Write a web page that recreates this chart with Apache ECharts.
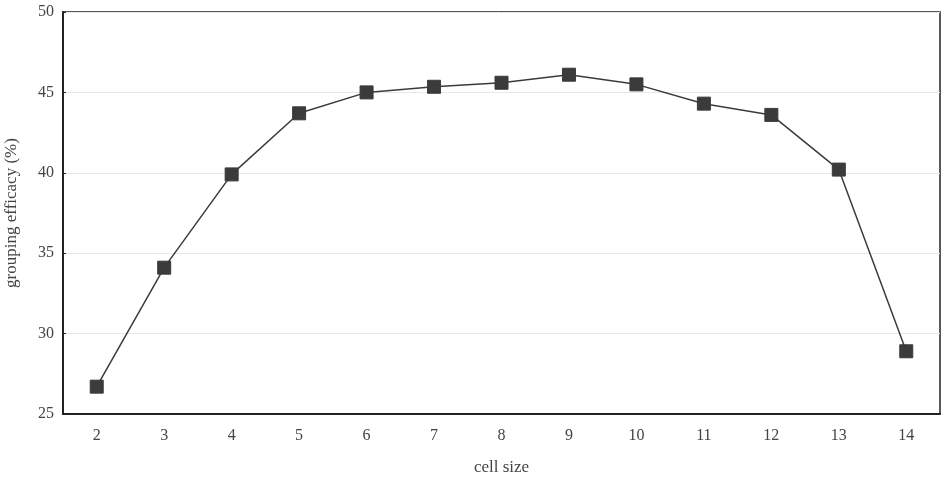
<!DOCTYPE html>
<html lang="en">
<head>
    <meta charset="UTF-8">
    <title>grouping efficacy vs cell size</title>
    <script src="https://cdn.jsdelivr.net/npm/echarts@6.0.0/dist/echarts.min.js"></script>
    <style>
        html, body { margin: 0; padding: 0; background: #fff; }
        #chart { width: 947px; height: 477px; }
    </style>
</head>
<body>
    <div id="chart"></div>
    <script>
    // 数据
    const cellSizes = ['2', '3', '4', '5', '6', '7', '8', '9', '10', '11', '12', '13', '14'];
    const efficacy = [26.7, 34.1, 39.9, 43.7, 45.0, 45.35, 45.6, 46.1, 45.5, 44.3, 43.6, 40.2, 28.9];
    const yTicks = [25, 30, 35, 40, 45, 50];

    const font = '"Liberation Serif", "DejaVu Serif", serif';
    const chart = echarts.init(document.getElementById('chart'));

    chart.setOption({
        animation: false,
        grid: {
            left: 63, right: 7, top: 12, bottom: 63,
            outerBoundsMode: 'none',
            containLabel: false,
            show: true, borderColor: '#222', borderWidth: 1.5,
            backgroundColor: '#fff'
        },
        xAxis: {
            type: 'category',
            data: cellSizes,
            boundaryGap: true,
            name: 'cell size',
            nameLocation: 'middle',
            nameGap: 45,
            nameTextStyle: { fontFamily: font, fontSize: 17, color: '#444' },
            axisLine: { lineStyle: { color: '#222', width: 2 } },
            axisTick: { inside: true, length: 4, lineStyle: { color: '#222' } },
            axisLabel: { fontFamily: font, fontSize: 16, color: '#444', margin: 14 },
            splitLine: { show: false }
        },
        yAxis: {
            type: 'value',
            min: yTicks[0],
            max: yTicks[yTicks.length - 1],
            interval: 5,
            name: 'grouping efficacy (%)',
            nameLocation: 'middle',
            nameGap: 43,
            nameTextStyle: { fontFamily: font, fontSize: 17, color: '#444' },
            axisLine: { show: true, lineStyle: { color: '#222', width: 2 } },
            axisTick: { show: true, inside: true, length: 3, lineStyle: { color: '#222' } },
            axisLabel: { fontFamily: font, fontSize: 16, color: '#444', margin: 9 },
            splitLine: { show: true, lineStyle: { color: '#e8e8e8', width: 1 } }
        },
        series: [{
            type: 'line',
            data: efficacy,
            symbol: 'rect',
            symbolSize: 13,
            itemStyle: { color: '#3b3b3b', borderColor: '#3b3b3b' },
            lineStyle: { color: '#3b3b3b', width: 1.5 }
        }]
    });
    </script>
</body>
</html>
